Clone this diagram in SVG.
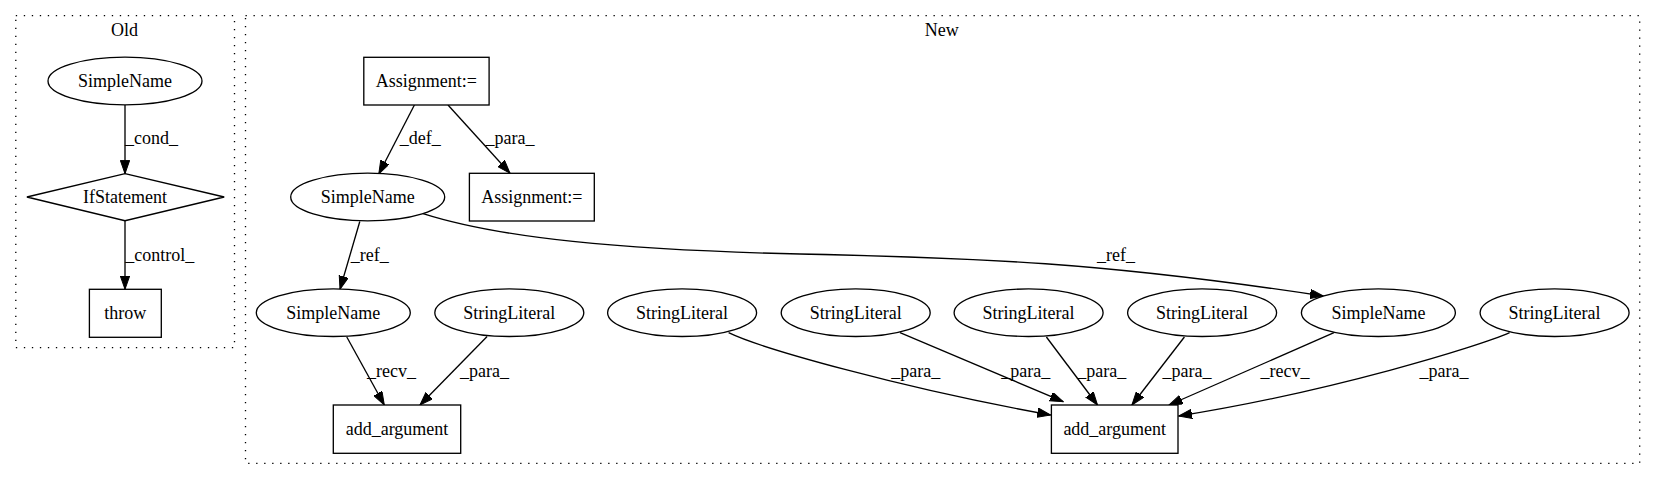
<svg xmlns="http://www.w3.org/2000/svg" width="1656" height="480" viewBox="0 0 1656 480">
<style>
text{font-family:"Times New Roman",Times,"Nimbus Roman","Nimbus Roman No9 L","Liberation Serif","DejaVu Serif",serif;font-size:18px;fill:#000;text-anchor:middle}
.n{fill:#fff;stroke:#000;stroke-width:1.33}
.c{fill:none;stroke:#000;stroke-width:1.33;stroke-dasharray:1.33,6.67}
.e{fill:none;stroke:#000;stroke-width:1.33;marker-end:url(#ah)}
</style>
<defs>
<marker id="ah" markerUnits="userSpaceOnUse" markerWidth="14" markerHeight="10" refX="13.3" refY="4.67" orient="auto">
<path d="M0,0 L13.3,4.67 L0,9.33 z" fill="#000" stroke="#000" stroke-width="1"/>
</marker>
</defs>
<rect width="1656" height="480" fill="#fff"/>
<g id="cluster_old">
<rect class="c" x="15.8" y="15.7" width="218.7" height="332"/>
<text x="124.6" y="36">Old</text>
</g>
<g id="cluster_new">
<rect class="c" x="245.5" y="15.7" width="1394.2" height="447.6"/>
<text x="941.8" y="36">New</text>
</g>
<g id="edges">
<path class="e" d="M125,105 L125,173.7"/>
<text x="151.4" y="144.3">_cond_</text>
<path class="e" d="M125,220.7 L125,289.3"/>
<text x="159.7" y="261">_control_</text>
<path class="e" d="M414.4,105 L378.8,174"/>
<text x="420.3" y="144.3">_def_</text>
<path class="e" d="M448,105 L510,173.3"/>
<text x="510" y="144.3">_para_</text>
<path class="e" d="M359.8,221.5 L340,289.3"/>
<text x="369.7" y="261">_ref_</text>
<path class="e" d="M423,213.6 C500,238 620,250 800,254 C980,258 1100,262 1323.4,296"/>
<text x="1116" y="261">_ref_</text>
<path class="e" d="M346.8,337 L384.3,405"/>
<text x="391.5" y="376.7">_recv_</text>
<path class="e" d="M487.1,336.5 L420,405"/>
<text x="484.4" y="376.7">_para_</text>
<path class="e" d="M728.6,332.7 C760,348 900,388 1050.7,415"/>
<text x="915.7" y="376.7">_para_</text>
<path class="e" d="M900,332.7 L1063.2,401.7"/>
<text x="1025.7" y="376.7">_para_</text>
<path class="e" d="M1046.4,337 L1097.5,405"/>
<text x="1101.8" y="376.7">_para_</text>
<path class="e" d="M1184.4,337 L1131.9,405"/>
<text x="1186.9" y="376.7">_para_</text>
<path class="e" d="M1334,332.7 L1169.1,405"/>
<text x="1285.1" y="376.7">_recv_</text>
<path class="e" d="M1509.6,332.7 C1480,346 1330,392 1178.7,416"/>
<text x="1444" y="376.7">_para_</text>
</g>
<g id="old_simplename">
<ellipse class="n" cx="125" cy="81" rx="77" ry="23.8"/>
<text x="125" y="87">SimpleName</text>
</g>
<g id="old_ifstatement">
<polygon class="n" points="125,173.7 224.2,197 125,220.7 26.9,197"/>
<text x="125" y="203">IfStatement</text>
</g>
<g id="old_throw">
<rect class="n" x="89.4" y="289.3" width="71.9" height="48"/>
<text x="125.3" y="319.3">throw</text>
</g>
<g id="new_assign1">
<rect class="n" x="363.8" y="57.3" width="125.3" height="47.7"/>
<text x="426.4" y="87">Assignment:=</text>
</g>
<g id="new_assign2">
<rect class="n" x="469.4" y="173.3" width="124.9" height="47.7"/>
<text x="531.8" y="203">Assignment:=</text>
</g>
<g id="new_simplename_def">
<ellipse class="n" cx="367.7" cy="197" rx="77" ry="23.8"/>
<text x="367.7" y="203">SimpleName</text>
</g>
<g id="new_simplename_a">
<ellipse class="n" cx="333.3" cy="312.7" rx="77" ry="23.8"/>
<text x="333.3" y="318.7">SimpleName</text>
</g>
<g id="new_stringliteral_1">
<ellipse class="n" cx="509.3" cy="312.7" rx="74.5" ry="23.8"/>
<text x="509.3" y="318.7">StringLiteral</text>
</g>
<g id="new_stringliteral_2">
<ellipse class="n" cx="682.1" cy="312.7" rx="74.5" ry="23.8"/>
<text x="682.1" y="318.7">StringLiteral</text>
</g>
<g id="new_stringliteral_3">
<ellipse class="n" cx="855.7" cy="312.7" rx="74.5" ry="23.8"/>
<text x="855.7" y="318.7">StringLiteral</text>
</g>
<g id="new_stringliteral_4">
<ellipse class="n" cx="1028.6" cy="312.7" rx="74.5" ry="23.8"/>
<text x="1028.6" y="318.7">StringLiteral</text>
</g>
<g id="new_stringliteral_5">
<ellipse class="n" cx="1202.1" cy="312.7" rx="74.5" ry="23.8"/>
<text x="1202.1" y="318.7">StringLiteral</text>
</g>
<g id="new_simplename_b">
<ellipse class="n" cx="1378.4" cy="312.7" rx="77" ry="23.8"/>
<text x="1378.4" y="318.7">SimpleName</text>
</g>
<g id="new_stringliteral_6">
<ellipse class="n" cx="1554.6" cy="312.7" rx="74.5" ry="23.8"/>
<text x="1554.6" y="318.7">StringLiteral</text>
</g>
<g id="new_add_argument_1">
<rect class="n" x="333.3" y="405" width="127.4" height="48.3"/>
<text x="397" y="435">add_argument</text>
</g>
<g id="new_add_argument_2">
<rect class="n" x="1051.4" y="405" width="126.6" height="48.3"/>
<text x="1114.7" y="435">add_argument</text>
</g>
</svg>
